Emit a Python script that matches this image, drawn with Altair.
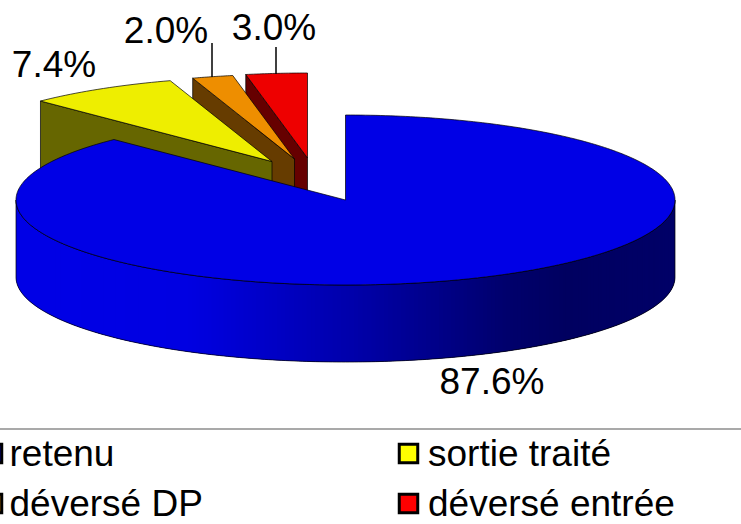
import numpy as np
import altair as alt

# Slice shares in percent, clockwise from twelve o'clock
categories = ["retenu", "sortie traité", "déversé DP", "déversé entrée"]
shares = [87.6, 7.4, 2.0, 3.0]
share_labels = ["87.6%", "7.4%", "2.0%", "3.0%"]

# Tilted disc geometry, in pixels
CX, CY, RX, RY, DEPTH = 345.5, 200.0, 329.5, 85.0, 77.0
explode_dx = [0.0, -73.5, -51.0, -38.0]
explode_dy = [0.0, -38.5, -41.0, -42.0]

top_colors = ["#0000e6", "#eeee00", "#ee8e00", "#ee0000"]
cut_colors = ["#000066", "#666600", "#663c00", "#660000"]
legend_colors = ["#0000ff", "#ffff00", "#ff9900", "#ff0000"]

# Rim shading across the width of the disc
rim_stops_x = [16, 180, 345, 500, 560, 675]
rim_stops_color = ["#0000e6", "#0000e2", "#0000aa", "#00006c", "#000060", "#000068"]

# Label anchors: centre x, baseline y
label_x = [492, 54, 166, 274]
label_y = [394, 77, 43, 40]
leader_x = [212, 276]
leader_y1 = [43, 47]
leader_y2 = [77, 74]

legend_col_x = [-7.5, 408.5, -7.5, 408.5]
legend_row_y = [453.5, 453.5, 503.5, 503.5]
legend_text_x = [9.5, 428, 9.5, 428]
legend_text_y = [466, 466, 516, 516]

W, H = 741, 524


def rim_point(deg, dx=0.0, dy=0.0, drop=0.0):
    a = np.radians(deg)
    return [float(CX + dx + RX * np.sin(a)), float(CY + dy - RY * np.cos(a) + drop)]


def polygon(points, **props):
    ring = [[float(v) for v in p] for p in points]
    if ring[0] != ring[-1]:
        ring.append(ring[0])
    return {"type": "Feature", "geometry": {"type": "Polygon", "coordinates": [ring]}, "properties": props}


def line(points, **props):
    return {"type": "Feature", "geometry": {"type": "LineString", "coordinates": points}, "properties": props}


edges = np.concatenate([[0.0], np.cumsum(shares)]) * 3.6

projection = dict(type="identity", scale=1, translate=[0, 0])

# Exploded slices: cut face first, then the top, painted from back to front
slice_layers = []
for i in [3, 2, 1]:
    start, end = edges[i], edges[i + 1]
    dx, dy = explode_dx[i], explode_dy[i]
    apex = [CX + dx, CY + dy]
    outer = rim_point(start, dx, dy)
    cut = [outer, apex, [apex[0], apex[1] + DEPTH], [outer[0], outer[1] + DEPTH]]
    arc = [rim_point(d, dx, dy) for d in np.linspace(start, end, 24)]
    for pts, colour in ((cut, cut_colors[i]), ([apex] + arc, top_colors[i])):
        slice_layers.append(
            alt.Chart(alt.Data(values=[polygon(pts)]))
            .mark_geoshape(fill=colour, stroke="#000000", strokeWidth=0.7, strokeJoin="round")
            .project(**projection)
        )

# Front rim of the large slice: overlapping strips painted right to left, so no seams show
rim_degrees = np.linspace(90, 270, 241)
strip_features = []
for a0, a1 in zip(rim_degrees[:-1], rim_degrees[1:]):
    p0, p1 = rim_point(a0 - 1.5 if a0 > 90 else a0), rim_point(a1)
    q1, q0 = rim_point(a1, drop=DEPTH), rim_point(a0 - 1.5 if a0 > 90 else a0, drop=DEPTH)
    mid = rim_point((a0 + a1) / 2)
    strip_features.append(polygon([p0, p1, q1, q0], across=mid[0]))

shade = alt.Scale(domain=rim_stops_x, range=rim_stops_color, interpolate="rgb")
strips = (
    alt.Chart(alt.Data(values=strip_features))
    .mark_geoshape(strokeWidth=0, stroke=None)
    .encode(color=alt.Color("properties.across:Q", scale=shade, legend=None))
    .project(**projection)
)

rim_outline = [rim_point(d) for d in rim_degrees]
rim_outline += [rim_point(d, drop=DEPTH) for d in rim_degrees[::-1]]
outline = (
    alt.Chart(alt.Data(values=[polygon(rim_outline)]))
    .mark_geoshape(filled=False, stroke="#000000", strokeWidth=0.7)
    .project(**projection)
)

# Top face of the large slice
big_arc = [rim_point(d) for d in np.linspace(edges[0], edges[1], 360)]
big_top = (
    alt.Chart(alt.Data(values=[polygon([[CX, CY]] + big_arc)]))
    .mark_geoshape(fill=top_colors[0], stroke="#000000", strokeWidth=0.7, strokeJoin="round")
    .project(**projection)
)

# Leader lines from the small slices to their labels
leaders = (
    alt.Chart(alt.Data(values=[line([[x, a], [x, b]]) for x, a, b in zip(leader_x, leader_y1, leader_y2)]))
    .mark_geoshape(filled=False, stroke="#000000", strokeWidth=1.5)
    .project(**projection)
)

FONT = "Liberation Sans"
labels = (
    alt.Chart(alt.Data(values=[{"t": t, "x": x, "y": y} for t, x, y in zip(share_labels, label_x, label_y)]))
    .mark_text(font=FONT, fontSize=37, align="center", baseline="alphabetic", color="#000000")
    .encode(longitude="x:Q", latitude="y:Q", text="t:N")
    .project(**projection)
)

# Legend: rule on top, two columns of swatch and name
legend_rule = (
    alt.Chart(alt.Data(values=[{"k": 0}]))
    .mark_rule(color="#555555", strokeWidth=1.2)
    .encode(x=alt.value(0), x2=alt.value(W), y=alt.value(429))
)
legend_layers = []
for name, x, y, tx, ty, colour in zip(categories, legend_col_x, legend_row_y, legend_text_x, legend_text_y, legend_colors):
    row = alt.Data(values=[{"name": name, "x": x, "y": y, "tx": tx, "ty": ty}])
    legend_layers.append(
        alt.Chart(row)
        .mark_square(size=342, fill=colour, stroke="#000000", strokeWidth=3, opacity=1)
        .encode(longitude="x:Q", latitude="y:Q")
        .project(**projection)
    )
    legend_layers.append(
        alt.Chart(row)
        .mark_text(font=FONT, fontSize=37, align="left", baseline="alphabetic", color="#000000")
        .encode(longitude="tx:Q", latitude="ty:Q", text="name:N")
        .project(**projection)
    )

chart = (
    alt.layer(*slice_layers, strips, outline, big_top, leaders, labels, legend_rule, *legend_layers)
    .properties(width=W, height=H, padding=0, autosize=alt.AutoSizeParams(type="none"), background="#ffffff")
    .configure_view(stroke=None)
)

chart.save("out.html", embed_options={"renderer": "svg", "actions": False})
